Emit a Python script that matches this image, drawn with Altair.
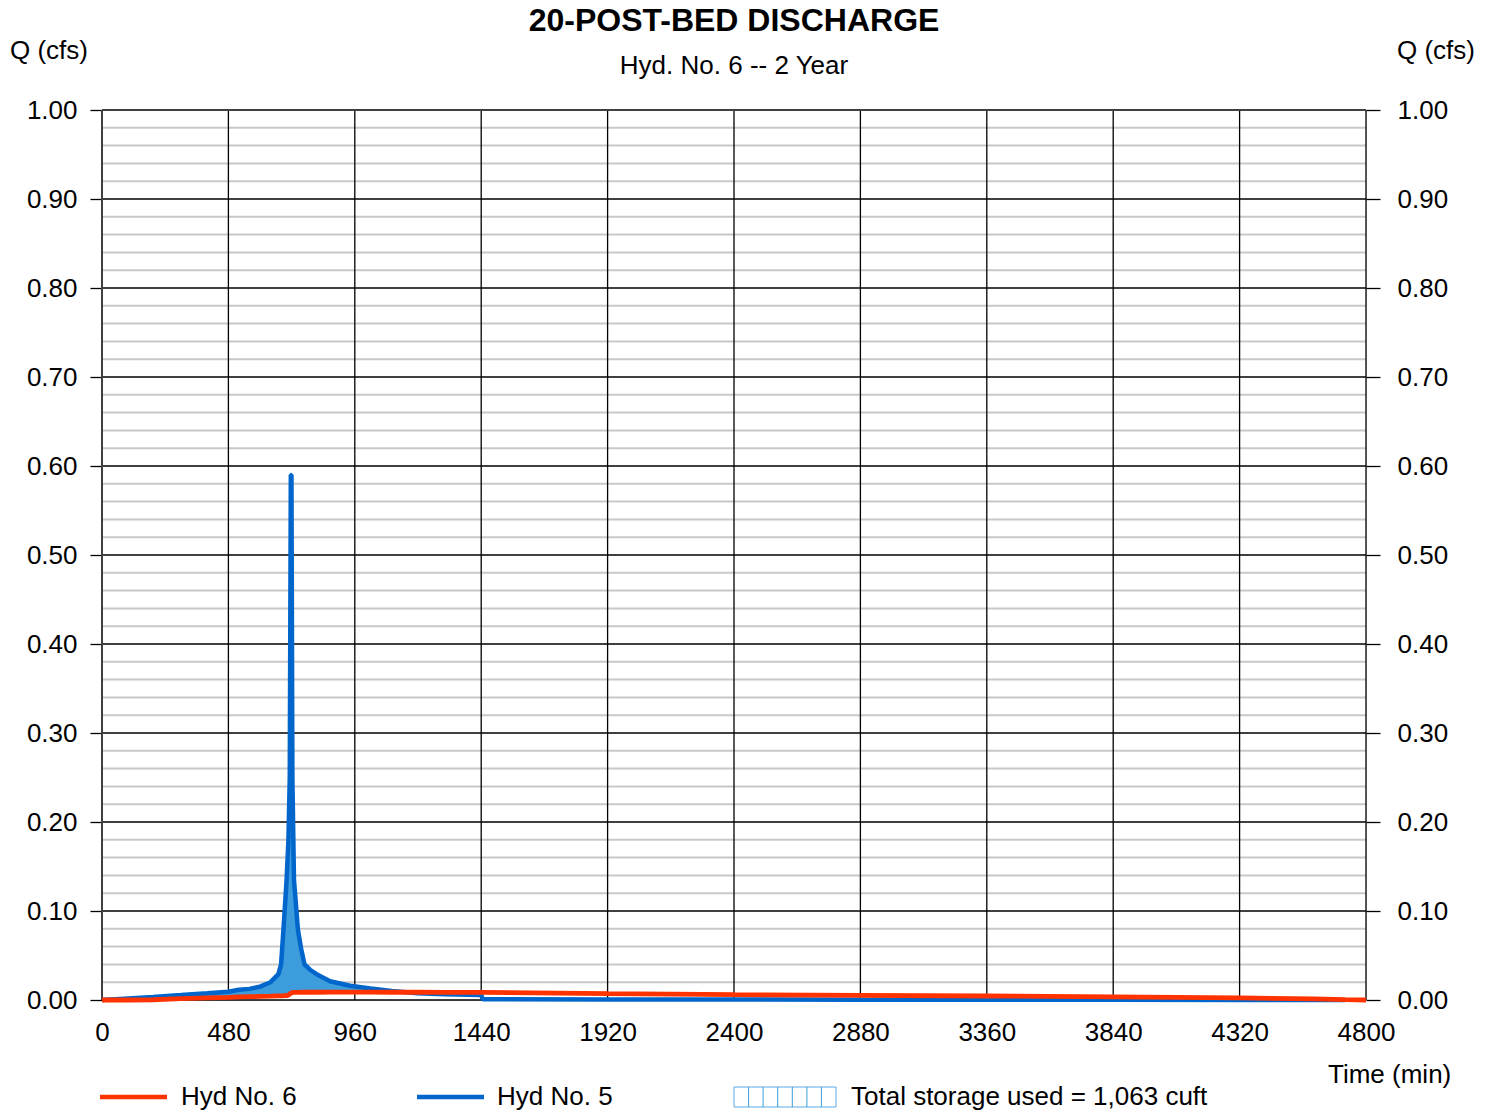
import altair as alt
import pandas as pd

# ---------------- data ----------------
times = [0, 100, 194, 300, 400, 480, 520, 560, 600, 640, 670, 680, 689, 701, 708,
         713, 717, 719.5, 723, 729, 744, 756, 769, 790, 815, 866, 942, 1020, 1100, 1200, 1300,
         1440, 1446, 1920, 2400, 2880, 3360, 3840, 4320, 4600, 4720, 4800]

# Hyd No. 5 (inflow, blue)
hyd5 = [0.0, 0.0018, 0.0035, 0.0055, 0.0075, 0.0093, 0.0115, 0.0125, 0.0150, 0.0200,
        0.0290, 0.0400, 0.0790, 0.1350, 0.1800, 0.2500, 0.5900, 0.5900, 0.2500, 0.1350, 0.0790,
        0.0580, 0.0400, 0.0340, 0.0290, 0.0210, 0.0160, 0.0130, 0.0100, 0.0075, 0.0065,
        0.0055, 0.0008, 0.0006, 0.0005, 0.0004, 0.0003, 0.0002, 0.0001, 0.0, 0.0, None]

# Hyd No. 6 (outflow, red)
hyd6 = [0.0, 0.0, 0.0003, 0.0015, 0.0024, 0.0030, 0.0034, 0.0037, 0.0040, 0.0043,
        0.0046, 0.0047, 0.0048, 0.0050, 0.0055, 0.0068, 0.0076, 0.0080, 0.0083, 0.0085, 0.0086,
        0.0087, 0.0087, 0.0087, 0.0087, 0.0088, 0.0088, 0.0088, 0.0087, 0.0087, 0.0086,
        0.0085, 0.0085, 0.0072, 0.0060, 0.0052, 0.0045, 0.0036, 0.0024, 0.0012, 0.0004, 0.0]

x_ticks = [0, 480, 960, 1440, 1920, 2400, 2880, 3360, 3840, 4320, 4800]
y_major = [0.0, 0.1, 0.2, 0.3, 0.4, 0.5, 0.6, 0.7, 0.8, 0.9, 1.0]
y_minor = [round(i * 0.02, 2) for i in range(51) if i % 5 != 0]

title_text = "20-POST-BED DISCHARGE"
subtitle_text = "Hyd. No. 6 -- 2 Year"
y_title = "Q (cfs)"
x_title = "Time (min)"
legend_labels = ["Hyd No. 6", "Hyd No. 5", "Total storage used = 1,063 cuft"]

# ---------------- styling ----------------
W, H = 1264, 890
FONT = "Liberation Sans"
RED = "#FF3300"
BLUE = "#0066CC"
FILL = "#3C9CDC"

df = pd.DataFrame({"t": times, "hyd5": hyd5, "hyd6": hyd6})
df["fill_top"] = df[["hyd5", "hyd6"]].max(axis=1)
df_blue = df.dropna(subset=["hyd5"])

xs = alt.Scale(domain=[0, 4800], nice=False, zero=False)
ys = alt.Scale(domain=[0, 1], nice=False, zero=False)

left_axis = alt.Axis(values=y_major, format=".2f", grid=False, domain=False,
                     ticks=True, tickSize=12, tickColor="black", tickWidth=1.3,
                     labelFontSize=26, labelPadding=13, labelColor="black",
                     labelFont=FONT, labelOverlap=False, labelFlush=False, title=None)
right_axis = alt.Axis(orient="right", values=y_major, format=".2f", grid=False, domain=False,
                      ticks=True, tickSize=14, tickColor="black", tickWidth=1.3,
                      labelFontSize=26, labelPadding=17, labelColor="black",
                      labelFont=FONT, labelOverlap=False, labelFlush=False, title=None)
x_axis = alt.Axis(values=x_ticks, format="d", grid=False, domain=False, ticks=False,
                  tickSize=0, labelFontSize=26, labelPadding=19, labelColor="black",
                  labelFont=FONT, labelOverlap=False, labelFlush=False, title=None)

one = pd.DataFrame({"a": [0]})

minor = alt.Chart(pd.DataFrame({"v": y_minor})).mark_rule(color="#C8C8C8", strokeWidth=2).encode(
    y=alt.Y("v:Q", scale=ys, axis=None), x=alt.value(0), x2=alt.value(W))
major_h = alt.Chart(pd.DataFrame({"v": y_major})).mark_rule(color="black", strokeWidth=1.3).encode(
    y=alt.Y("v:Q", scale=ys, axis=left_axis), x=alt.value(0), x2=alt.value(W))
major_v = alt.Chart(pd.DataFrame({"t": x_ticks})).mark_rule(color="black", strokeWidth=1.3).encode(
    x=alt.X("t:Q", scale=xs, axis=x_axis), y=alt.value(0), y2=alt.value(H))
left_border = alt.Chart(one).mark_rule(color="#404040", strokeWidth=2).encode(
    x=alt.value(0), y=alt.value(0), y2=alt.value(H))
top_border = alt.Chart(one).mark_rule(color="#404040", strokeWidth=2).encode(
    x=alt.value(0), x2=alt.value(W), y=alt.value(0))

area = alt.Chart(df).mark_area(color=FILL, opacity=1).encode(
    x=alt.X("t:Q", scale=xs, axis=x_axis),
    y=alt.Y("fill_top:Q", scale=ys, axis=None),
    y2="hyd6:Q")
blue_line = alt.Chart(df_blue).mark_line(color=BLUE, strokeWidth=4.5, strokeJoin="bevel").encode(
    x=alt.X("t:Q", scale=xs, axis=x_axis),
    y=alt.Y("hyd5:Q", scale=ys, axis=right_axis))
red_line = alt.Chart(df).mark_line(color=RED, strokeWidth=4.8, strokeJoin="bevel").encode(
    x=alt.X("t:Q", scale=xs, axis=x_axis),
    y=alt.Y("hyd6:Q", scale=ys, axis=None))


def label(text, x, y, size=26, weight="normal", align="left"):
    return alt.Chart(one).mark_text(text=text, fontSize=size, fontWeight=weight, align=align,
                                    baseline="middle", font=FONT, color="black").encode(
        x=alt.value(x), y=alt.value(y))


texts = [
    label(title_text, 632, -89, size=32, weight="bold", align="center"),
    label(subtitle_text, 632, -44, align="center"),
    label(y_title, -92, -59),
    label(y_title, 1295, -59),
    label(x_title, 1226, 965),
    label(legend_labels[0], 79, 987),
    label(legend_labels[1], 395, 987),
    label(legend_labels[2], 749, 987),
]

leg_red = alt.Chart(one).mark_rule(color=RED, strokeWidth=4.5).encode(
    x=alt.value(-2), x2=alt.value(65), y=alt.value(987))
leg_blue = alt.Chart(one).mark_rule(color=BLUE, strokeWidth=4.5).encode(
    x=alt.value(315), x2=alt.value(382), y=alt.value(987))
leg_box = alt.Chart(one).mark_rect(fill="white", stroke="#5AA8E6", strokeWidth=1).encode(
    x=alt.value(632), x2=alt.value(734), y=alt.value(977), y2=alt.value(997))
hatch = alt.Chart(pd.DataFrame({"px": [646.6, 661.1, 675.7, 690.3, 704.9, 719.4]})).mark_rule(
    color="#3C9CDC", strokeWidth=1).encode(
    x=alt.X("px:Q", scale=None, axis=None), y=alt.value(977), y2=alt.value(997))

chart = alt.layer(
    minor, major_h, major_v, left_border, top_border, area, blue_line, red_line,
    leg_red, leg_blue, leg_box, hatch, *texts
).resolve_axis(y="independent").properties(
    width=W, height=H,
    padding={"left": 102, "top": 110, "right": 128, "bottom": 112},
    autosize=alt.AutoSizeParams(type="none"),
    background="white",
).configure_view(stroke=None).configure(font=FONT)

chart.save("out.html", embed_options={"renderer": "svg", "actions": False})
